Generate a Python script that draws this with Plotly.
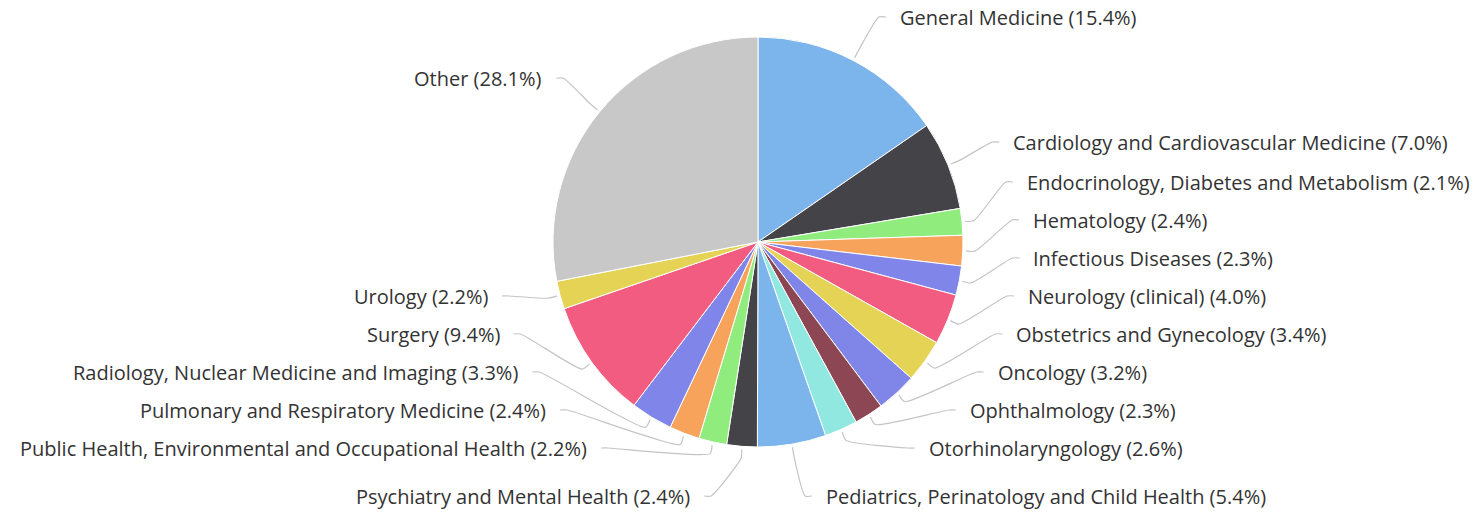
import math
import plotly.graph_objects as go

# ---- data ----
labels = [
    "General Medicine",
    "Cardiology and Cardiovascular Medicine",
    "Endocrinology, Diabetes and Metabolism",
    "Hematology",
    "Infectious Diseases",
    "Neurology (clinical)",
    "Obstetrics and Gynecology",
    "Oncology",
    "Ophthalmology",
    "Otorhinolaryngology",
    "Pediatrics, Perinatology and Child Health",
    "Psychiatry and Mental Health",
    "Public Health, Environmental and Occupational Health",
    "Pulmonary and Respiratory Medicine",
    "Radiology, Nuclear Medicine and Imaging",
    "Surgery",
    "Urology",
    "Other",
]
shares = [15.4, 7.0, 2.1, 2.4, 2.3, 4.0, 3.4, 3.2, 2.3, 2.6, 5.4, 2.4, 2.2, 2.4, 3.3, 9.4, 2.2, 28.1]
palette = ["#7cb5ec", "#434348", "#90ed7d", "#f7a35c", "#8085e9",
           "#f15c80", "#e4d354", "#8085e8", "#8d4653", "#91e8e1"]
other_color = "#c8c8c8"

# ---- layout constants (pixels) ----
W, H = 1481, 512
CX, CY, R = 758.0, 242.0, 205.0
LABEL_R = 245.0      # radius of natural label position
TEXT_DY = -8.0       # text centre relative to natural label point
SPACING = 38.0       # min vertical distance between labels
Y_LO, Y_HI = 14.0, 486.0
BOTTOM_EXTRA = 10.0  # extra drop for a label sitting on the bottom bound
X_R = 275.0          # horizontal label radius
Y_STRETCH = 1.05
FONT = "Open Sans, sans-serif"
FONT_SIZE = 20

colors = [palette[i % len(palette)] for i in range(len(labels) - 1)] + [other_color]
texts = [f"{l} ({v:.1f}%)" for l, v in zip(labels, shares)]

total = sum(shares)
mids = []
acc = 0.0
for v in shares:
    mids.append((acc + v / 2) / total * 2 * math.pi)
    acc += v


def distribute(idx, targets):
    # cluster-based placement, minimal displacement, kept inside [Y_LO, Y_HI]
    order = sorted(idx, key=lambda i: targets[i])
    clusters = [[i] for i in order]

    def start_of(c):
        n = len(c)
        s = sum(targets[i] for i in c) / n - (n - 1) * SPACING / 2
        s = max(Y_LO, min(s, Y_HI - (n - 1) * SPACING))
        return s

    changed = True
    while changed:
        changed = False
        for k in range(len(clusters) - 1):
            a, b = clusters[k], clusters[k + 1]
            if start_of(a) + len(a) * SPACING > start_of(b):
                clusters[k] = a + b
                del clusters[k + 1]
                changed = True
                break
    pos = {}
    for c in clusters:
        s = start_of(c)
        for j, i in enumerate(c):
            pos[i] = s + j * SPACING
    last = order[-1]
    if pos[last] >= Y_HI - 0.5:
        pos[last] += BOTTOM_EXTRA
    return pos


targets = [CY - LABEL_R * math.cos(a) + TEXT_DY for a in mids]
right = [i for i, a in enumerate(mids) if a < math.pi]
left = [i for i, a in enumerate(mids) if a >= math.pi]
ypos = {}
ypos.update(distribute(right, targets))
ypos.update(distribute(left, targets))

fig = go.Figure()

fig.add_trace(go.Pie(
    labels=labels,
    values=shares,
    sort=False,
    direction="clockwise",
    rotation=0,
    marker=dict(colors=colors, line=dict(color="#ffffff", width=1)),
    textinfo="none",
    hoverinfo="label+percent",
    showlegend=False,
    domain=dict(x=[(CX - R) / W, (CX + R) / W], y=[1 - (CY + R) / H, 1 - (CY - R) / H]),
))

annotations = []
for i, a in enumerate(mids):
    side = 1 if a < math.pi else -1
    ly = ypos[i]
    dy = (ly - CY) * Y_STRETCH
    xo = math.sqrt(max(X_R ** 2 - dy ** 2, 0.0))
    lx = CX + side * xo
    # connector: just outside slice edge -> a bit further out -> near label
    ex, ey = CX + (R + 3) * math.sin(a), CY - (R + 3) * math.cos(a)
    bx, by = CX + (R + 12) * math.sin(a), CY - (R + 12) * math.cos(a)
    fig.add_trace(go.Scatter(
        x=[ex, bx, lx - side * 20, lx - side * 13],
        y=[ey, by, ly, ly],
        mode="lines",
        line=dict(color="#c4c4c4", width=1.2, shape="spline", smoothing=0.6),
        hoverinfo="skip",
        showlegend=False,
    ))
    annotations.append(dict(
        x=lx, y=ly, xref="x", yref="y",
        text=texts[i], showarrow=False,
        xanchor="left" if side == 1 else "right", yanchor="middle",
        borderpad=0,
        font=dict(family=FONT, size=FONT_SIZE, color="#333333"),
    ))

fig.update_layout(
    width=W, height=H,
    margin=dict(l=0, r=0, t=0, b=0),
    paper_bgcolor="#ffffff",
    plot_bgcolor="rgba(0,0,0,0)",
    xaxis=dict(range=[0, W], visible=False, fixedrange=True, domain=[0, 1]),
    yaxis=dict(range=[H, 0], visible=False, fixedrange=True, domain=[0, 1]),
    annotations=annotations,
    showlegend=False,
)

fig.write_html(
    "out.html",
    config={"displayModeBar": False},
    post_script="document.body.style.margin='0';",
)
